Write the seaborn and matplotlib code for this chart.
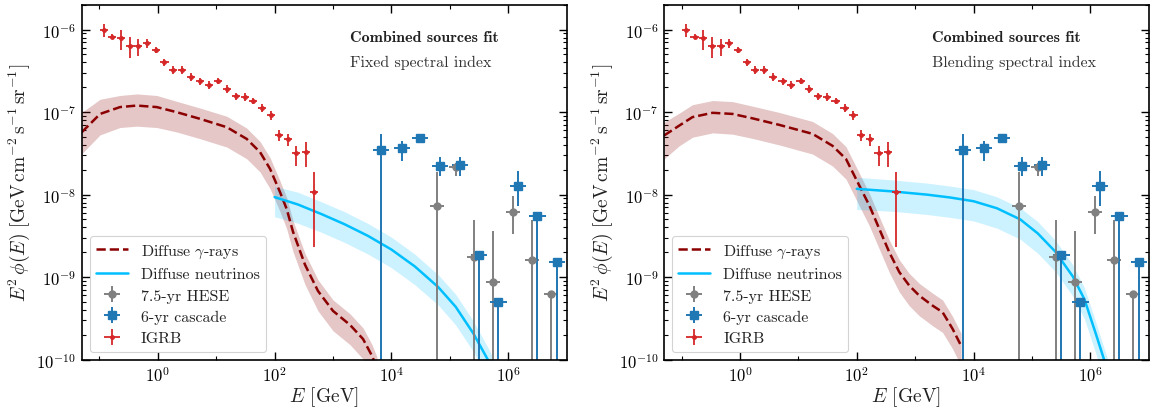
import numpy as np
import matplotlib
matplotlib.use('Agg')
import matplotlib.pyplot as plt
from matplotlib.ticker import FixedLocator, LogLocator, NullFormatter
import seaborn as sns

# IGRB (Fermi) data points, GeV and GeV cm^-2 s^-1 sr^-1
IGRB_E = [0.119, 0.167, 0.235, 0.336, 0.466, 0.656, 0.924, 1.30, 1.83, 2.61, 3.72, 5.36, 7.55,
          10.9, 15.3, 21.9, 31.2, 43.3, 61.7, 87.9, 118, 168, 236, 341, 479]
IGRB_F = [1.00e-6, 8.2e-7, 7.9e-7, 6.4e-7, 6.3e-7, 6.8e-7, 5.7e-7, 4.0e-7, 3.25e-7, 3.25e-7, 2.65e-7,
          2.35e-7, 2.14e-7, 2.39e-7, 1.91e-7, 1.56e-7, 1.53e-7, 1.37e-7, 1.12e-7, 9.3e-8, 5.3e-8,
          4.7e-8, 3.2e-8, 3.27e-8, 1.07e-8]
IGRB_HI = [1.17e-6, 8.8e-7, 9.9e-7, 8.2e-7, 7.7e-7, 7.6e-7, 6.2e-7, 4.4e-7, 3.6e-7, 3.6e-7, 2.95e-7,
           2.6e-7, 2.4e-7, 2.6e-7, 2.1e-7, 1.72e-7, 1.68e-7, 1.5e-7, 1.25e-7, 1.04e-7, 6.0e-8,
           5.45e-8, 3.9e-8, 4.3e-8, 1.87e-8]
IGRB_LO = [8.1e-7, 7.6e-7, 5.7e-7, 4.5e-7, 4.8e-7, 6.05e-7, 5.2e-7, 3.65e-7, 2.9e-7, 2.9e-7, 2.37e-7,
           2.1e-7, 1.9e-7, 2.18e-7, 1.7e-7, 1.4e-7, 1.38e-7, 1.24e-7, 1.0e-7, 8.1e-8, 4.5e-8,
           3.9e-8, 2.25e-8, 2.15e-8, 2.3e-9]
IGRB_DEX = 0.07

# IceCube 6-yr cascade
CAS_E = [6.6e3, 1.5e4, 3.08e4, 6.78e4, 1.49e5, 3.19e5, 6.75e5, 1.45e6, 3.14e6, 6.74e6]
CAS_F = [3.48e-8, 3.68e-8, 4.83e-8, 2.21e-8, 2.31e-8, 1.87e-9, 4.97e-10, 1.29e-8, 5.47e-9, 1.54e-9]
CAS_HI = [5.45e-8, 4.44e-8, 5.45e-8, 2.84e-8, 2.85e-8, 2.05e-9, 5.5e-10, 1.95e-8, 6.0e-9, 1.7e-9]
CAS_LO = [1e-12, 2.58e-8, 4.2e-8, 1.70e-8, 1.69e-8, 1e-12, 1e-12, 7.3e-9, 1e-12, 1e-12]
CAS_DEX = 0.14

# IceCube 7.5-yr HESE
HESE_E = [5.96e4, 1.26e5, 2.62e5, 5.54e5, 1.19e6, 2.52e6, 5.32e6]
HESE_F = [7.2e-9, 2.15e-8, 1.74e-9, 8.7e-10, 6.2e-9, 1.63e-9, 6.25e-10]
HESE_HI = [1.87e-8, 2.4e-8, 4.98e-9, 3.66e-9, 9.7e-9, 4.98e-9, 6.6e-10]
HESE_LO = [1e-12, 1.67e-8, 1e-12, 1e-12, 3.34e-9, 1e-12, 1e-12]
HESE_DEX = 0.12

# model curves, left panel (fixed spectral index)
GAM_E_L = [0.05, 0.103, 0.226, 0.438, 0.96, 2.11, 5.3, 15.2, 33.3, 56.4, 83.6, 124, 161, 207, 332,
           553, 1000, 1954, 3266, 4656, 5623]
GAM_F_L = [5.7e-8, 9.5e-8, 1.15e-7, 1.2e-7, 1.15e-7, 9.98e-8, 8.28e-8, 6.56e-8, 4.73e-8, 3.27e-8,
           2.05e-8, 1.07e-8, 6.7e-9, 3.53e-9, 1.41e-9, 6.8e-10, 3.9e-10, 2.64e-10, 1.78e-10,
           1.11e-10, 8e-11]
GAM_UP_L = [9.9e-8, 1.43e-7, 1.59e-7, 1.66e-7, 1.59e-7, 1.35e-7, 1.12e-7, 8.9e-8, 6.4e-8, 4.4e-8,
            2.8e-8, 1.46e-8, 9.2e-9, 4.8e-9, 1.93e-9, 9.3e-10, 5.3e-10, 3.6e-10, 2.43e-10,
            1.52e-10, 1.09e-10]
GAM_LO_L = [3.13e-8, 5.3e-8, 6.5e-8, 6.75e-8, 6.5e-8, 5.74e-8, 4.76e-8, 3.77e-8, 2.72e-8, 1.88e-8,
            1.18e-8, 6.2e-9, 3.85e-9, 2.03e-9, 8.1e-10, 3.9e-10, 2.24e-10, 1.52e-10, 1.02e-10,
            6.4e-11, 4.6e-11]
NU_E_L = [100, 251, 631, 1585, 3981, 1e4, 25120, 63100, 1.259e5, 2.512e5, 4.467e5, 5.623e5]
NU_F_L = [9.33e-9, 7.59e-9, 5.82e-9, 4.37e-9, 3.16e-9, 2.16e-9, 1.35e-9, 7.59e-10, 4.37e-10,
          2.09e-10, 1.0e-10, 7.2e-11]
NU_UP_L = [1.26e-8, 1.07e-8, 8.2e-9, 6.2e-9, 4.46e-9, 3.05e-9, 1.9e-9, 1.07e-9, 6.2e-10,
           2.95e-10, 1.41e-10, 1.02e-10]
NU_LO_L = [5.4e-9, 4.5e-9, 3.5e-9, 2.63e-9, 1.9e-9, 1.3e-9, 8.1e-10, 4.6e-10, 2.63e-10,
           1.26e-10, 6.0e-11, 4.3e-11]

# model curves, right panel (blending spectral index)
GAM_E_R = [0.05, 0.091, 0.154, 0.34, 0.746, 1.64, 4.71, 17.5, 38.5, 65.5, 97, 164, 243, 361, 536,
           794, 1178, 1991, 2951, 4385, 6109]
GAM_F_R = [5.2e-8, 6.85e-8, 8.7e-8, 9.8e-8, 9.5e-8, 8.4e-8, 7.0e-8, 5.45e-8, 3.9e-8, 2.7e-8,
           1.55e-8, 7.4e-9, 3.85e-9, 2.0e-9, 1.15e-9, 7.9e-10, 5.97e-10, 4.52e-10, 3.76e-10,
           2.36e-10, 1.48e-10]
GAM_UP_R = [7.5e-8, 9.7e-8, 1.23e-7, 1.38e-7, 1.34e-7, 1.18e-7, 9.9e-8, 7.7e-8, 5.5e-8, 3.8e-8,
            2.19e-8, 1.04e-8, 5.4e-9, 2.82e-9, 1.62e-9, 1.11e-9, 8.4e-10, 6.4e-10, 5.3e-10,
            3.33e-10, 2.09e-10]
GAM_LO_R = [2.7e-8, 3.9e-8, 4.96e-8, 5.6e-8, 5.4e-8, 4.8e-8, 4.0e-8, 3.1e-8, 2.22e-8, 1.54e-8,
            8.8e-9, 4.2e-9, 2.19e-9, 1.14e-9, 6.6e-10, 4.5e-10, 3.4e-10, 2.58e-10, 2.14e-10,
            1.35e-10, 8.4e-11]
NU_E_R = [100, 398, 1585, 3981, 1e4, 25120, 63100, 1.259e5, 2.512e5, 5.012e5, 7.943e5, 1.259e6,
          1.778e6, 2.0e6]
NU_F_R = [1.175e-8, 1.096e-8, 1.0e-8, 9.23e-9, 8.32e-9, 6.84e-9, 5.01e-9, 3.39e-9, 2.04e-9,
          1.02e-9, 5.37e-10, 2.0e-10, 9.3e-11, 7.5e-11]
NU_UP_R = [1.62e-8, 1.51e-8, 1.38e-8, 1.27e-8, 1.15e-8, 9.4e-9, 6.9e-9, 4.7e-9, 2.8e-9, 1.41e-9,
           7.4e-10, 2.76e-10, 1.28e-10, 1.0e-10]
NU_LO_R = [6.6e-9, 6.3e-9, 5.75e-9, 5.3e-9, 4.8e-9, 3.93e-9, 2.88e-9, 1.95e-9, 1.17e-9, 5.9e-10,
           3.1e-10, 1.15e-10, 5.3e-11, 4.3e-11]

SUBTITLES = ['Fixed spectral index', 'Blending spectral index']

X_MAJOR = [1, 1e2, 1e4, 1e6]
X_MINOR = [1e-1, 1e1, 1e3, 1e5]
Y_MAJOR = [1e-10, 1e-9, 1e-8, 1e-7, 1e-6]

GAM_COLOR = '#8b0000'
NU_COLOR = '#00bfff'


def xerr(e, dex):
    e = np.asarray(e)
    return [e * (1 - 10 ** -dex), e * (10 ** dex - 1)]


def yerr(f, lo, hi):
    f, lo, hi = np.asarray(f), np.asarray(lo), np.asarray(hi)
    return [f - lo, hi - f]


def draw_panel(ax, gam, nu, subtitle):
    ax.set_xscale('log')
    ax.set_yscale('log')
    ge, gf, gu, gl = gam
    ne, nf, nu_up, nl = nu

    ax.fill_between(ge, gl, gu, color=GAM_COLOR, alpha=0.22, lw=0)
    ax.fill_between(ne, nl, nu_up, color=NU_COLOR, alpha=0.2, lw=0)
    sns.lineplot(x=ge, y=gf, ax=ax, color=GAM_COLOR, linestyle='--', lw=1.8,
                 label=r'Diffuse $\gamma$-rays')
    sns.lineplot(x=ne, y=nf, ax=ax, color=NU_COLOR, lw=1.8, label='Diffuse neutrinos')

    h1 = ax.errorbar(HESE_E, HESE_F, yerr=yerr(HESE_F, HESE_LO, HESE_HI),
                     xerr=xerr(HESE_E, HESE_DEX), fmt='o', ms=5, color='#808080',
                     elinewidth=1.4, capsize=0, label='7.5-yr HESE')
    h2 = ax.errorbar(CAS_E, CAS_F, yerr=yerr(CAS_F, CAS_LO, CAS_HI),
                     xerr=xerr(CAS_E, CAS_DEX), fmt='s', ms=5.5, color='#1f77b4',
                     elinewidth=1.4, capsize=0, label='6-yr cascade')
    h3 = ax.errorbar(IGRB_E, IGRB_F, yerr=yerr(IGRB_F, IGRB_LO, IGRB_HI),
                     xerr=xerr(IGRB_E, IGRB_DEX), fmt='o', ms=2.5, color='#d62728',
                     elinewidth=1.3, capsize=0, label='IGRB')

    ax.set_xlim(0.05, 1e7)
    ax.set_ylim(1e-10, 2e-6)
    ax.xaxis.set_major_locator(FixedLocator(X_MAJOR))
    ax.xaxis.set_minor_locator(FixedLocator(X_MINOR))
    ax.xaxis.set_minor_formatter(NullFormatter())
    ax.yaxis.set_major_locator(FixedLocator(Y_MAJOR))
    ax.yaxis.set_minor_locator(LogLocator(base=10, subs=np.arange(2, 10)))
    ax.yaxis.set_minor_formatter(NullFormatter())
    ax.tick_params(which='both', direction='in', top=True, right=True, labelsize=12)
    ax.tick_params(which='major', length=5.5, width=1.0, pad=4)
    ax.tick_params(which='minor', length=3, width=0.8)
    for s in ax.spines.values():
        s.set_linewidth(1.2)
        s.set_color('black')

    ax.set_xlabel(r'$E$ [GeV]', fontsize=14, labelpad=0)
    ax.set_ylabel(r'$E^2\,\phi(E)\ [\mathrm{GeV\,cm^{-2}\,s^{-1}\,sr^{-1}}]$', fontsize=14,
                  labelpad=3)

    ax.text(0.553, 0.91, 'Combined sources fit', transform=ax.transAxes, fontsize=11.5,
            family='cmb10', va='center', ha='left', color='#222222')
    ax.text(0.553, 0.838, subtitle, transform=ax.transAxes, fontsize=11.5,
            va='center', ha='left', color='#333333')

    lines = ax.get_lines()
    handles = [lines[0], lines[1], h1, h2, h3]
    labels = [r'Diffuse $\gamma$-rays', 'Diffuse neutrinos', '7.5-yr HESE', '6-yr cascade',
              'IGRB']
    leg = ax.legend(handles, labels, loc='lower left', fontsize=11.5, frameon=True,
                    fancybox=True, framealpha=0.85, edgecolor='#cccccc',
                    borderaxespad=0.5, labelspacing=0.45)
    leg.get_frame().set_linewidth(0.8)


def main():
    sns.set_theme(style='ticks')
    plt.rcParams['font.family'] = 'serif'
    plt.rcParams['font.serif'] = ['cmr10', 'DejaVu Serif']
    plt.rcParams['mathtext.fontset'] = 'cm'
    plt.rcParams['axes.unicode_minus'] = False
    plt.rcParams['axes.formatter.use_mathtext'] = True
    plt.rcParams['text.color'] = '#222222'
    plt.rcParams['axes.labelcolor'] = '#222222'
    plt.rcParams['xtick.color'] = 'black'
    plt.rcParams['ytick.color'] = 'black'

    fig = plt.figure(figsize=(11.58, 4.10), dpi=100)
    ax_l = fig.add_axes([0.0706, 0.1202, 0.4188, 0.8659])
    ax_r = fig.add_axes([0.5734, 0.1202, 0.4186, 0.8659])

    draw_panel(ax_l, (GAM_E_L, GAM_F_L, GAM_UP_L, GAM_LO_L),
               (NU_E_L, NU_F_L, NU_UP_L, NU_LO_L), SUBTITLES[0])
    draw_panel(ax_r, (GAM_E_R, GAM_F_R, GAM_UP_R, GAM_LO_R),
               (NU_E_R, NU_F_R, NU_UP_R, NU_LO_R), SUBTITLES[1])

    fig.savefig('out.png', dpi=100)


if __name__ == '__main__':
    main()
